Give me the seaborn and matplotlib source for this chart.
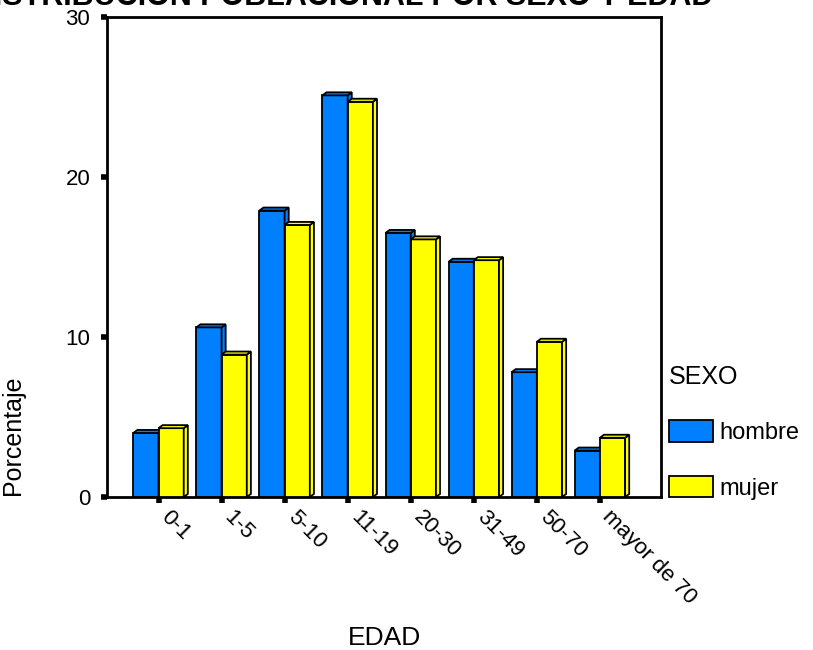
import numpy as np
import matplotlib
matplotlib.use("Agg")
import matplotlib.pyplot as plt
import matplotlib.transforms as mtransforms
import seaborn as sns
import pandas as pd
from matplotlib.patches import Polygon

# age groups and percentage per sex
edades = ['0-1', '1-5', '5-10', '11-19', '20-30', '31-49', '50-70', 'mayor de 70']
hombre = [4.0, 10.6, 17.9, 25.1, 16.5, 14.7, 7.8, 2.9]
mujer = [4.3, 8.9, 17.0, 24.7, 16.1, 14.8, 9.7, 3.7]
sexos = ['hombre', 'mujer']
colores = {'hombre': '#0080ff', 'mujer': '#ffff00'}

df = pd.DataFrame({
    'EDAD': edades * 2,
    'SEXO': ['hombre'] * len(edades) + ['mujer'] * len(edades),
    'Porcentaje': hombre + mujer,
})

sns.set_style('white')
plt.rcParams['font.family'] = ['Liberation Sans', 'DejaVu Sans']
plt.rcParams.update({'text.color': 'black', 'axes.labelcolor': 'black',
                     'xtick.color': 'black', 'ytick.color': 'black'})

fig = plt.figure(figsize=(8.13, 6.5), dpi=100)
ax = fig.add_axes([0.1316, 0.2354, 0.6815, 0.7385])

sns.barplot(data=df, x='EDAD', y='Porcentaje', hue='SEXO', hue_order=sexos,
            palette=colores, saturation=1, edgecolor='black', linewidth=1.3,
            width=0.8, ax=ax)

# fake 3d depth: side and top faces on each bar
dx, dy = 0.065, 0.19
for k, cont in enumerate(ax.containers):
    for p in cont.patches:
        x0, w, h = p.get_x(), p.get_width(), p.get_height()
        c = p.get_facecolor()
        p.set_zorder(2 + k)
        side = Polygon([(x0 + w, 0), (x0 + w + dx, dy), (x0 + w + dx, h + dy), (x0 + w, h)],
                       closed=True, facecolor=c, edgecolor='black', linewidth=1.3, zorder=2 + k)
        top = Polygon([(x0, h), (x0 + dx, h + dy), (x0 + w + dx, h + dy), (x0 + w, h)],
                      closed=True, facecolor=c, edgecolor='black', linewidth=1.3, zorder=2 + k)
        ax.add_patch(side)
        ax.add_patch(top)

ax.set_ylim(0, 30)
ax.set_xlim(-0.817, 7.97)
ax.set_yticks([0, 10, 20, 30])

for s in ax.spines.values():
    s.set_visible(True)
    s.set_linewidth(2)
    s.set_color('black')

ax.tick_params(axis='both', direction='out', length=4, width=4, color='black',
               bottom=True, left=True, labelsize=16, pad=8)
ax.tick_params(axis='x', pad=8, labelsize=16)
shift = mtransforms.ScaledTranslation(6 / 100, 0, fig.dpi_scale_trans)
for lab in ax.get_xticklabels():
    lab.set_rotation(-45)
    lab.set_ha('left')
    lab.set_va('center')
    lab.set_rotation_mode('anchor')
    lab.set_transform(lab.get_transform() + shift)

ax.set_xlabel('EDAD', fontsize=19)
ax.set_ylabel('Porcentaje', fontsize=18)
ax.xaxis.set_label_coords(0.5, -0.268)
ax.yaxis.set_label_coords(-0.148, 0.129)

handles, labels = ax.get_legend_handles_labels()
leg = ax.legend(handles, labels, title='SEXO', loc='upper left',
                bbox_to_anchor=(1.014, 0.276), frameon=False, fontsize=17,
                title_fontsize=18, alignment='left', borderpad=0,
                handlelength=1.86, handleheight=1.0, labelspacing=1.35,
                handletextpad=0.3, borderaxespad=0)

fig.text(0.421, 0.992, 'DISTRIBUCION POBLACIONAL POR SEXO Y EDAD',
         fontsize=22, fontweight='bold', ha='center', va='baseline')

fig.savefig('out.png', dpi=100)
